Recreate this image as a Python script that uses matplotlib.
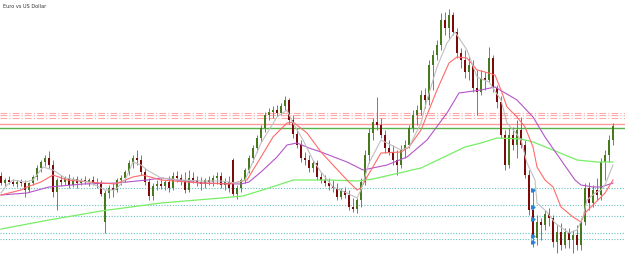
import matplotlib
matplotlib.use("Agg")
import matplotlib.pyplot as plt

title = "Euro vs US Dollar"

# OHLC per bar
opens = [1.124,1.117,1.120,1.118,1.116,1.118,1.117,1.110,1.117,1.123,1.132,1.138,1.142,1.135,1.108,1.120,1.118,1.122,1.115,1.121,
         1.117,1.120,1.118,1.120,1.117,1.116,1.078,1.107,1.112,1.110,1.120,1.122,1.128,1.137,1.142,1.140,1.128,1.118,1.104,1.114,
         1.116,1.114,1.118,1.112,1.124,1.122,1.120,1.110,1.122,1.120,1.118,1.116,1.120,1.118,1.122,1.124,1.115,1.118,1.140,1.106,
         1.112,1.120,1.130,1.142,1.152,1.162,1.172,1.185,1.188,1.190,1.187,1.194,1.200,1.180,1.166,1.155,1.142,1.140,1.132,1.137,
         1.123,1.120,1.117,1.114,1.112,1.103,1.109,1.105,1.093,1.091,1.100,1.118,1.145,1.167,1.178,1.175,1.165,1.152,1.148,1.140,
         1.135,1.150,1.155,1.172,1.185,1.190,1.205,1.200,1.235,1.245,1.255,1.280,1.272,1.285,1.268,1.247,1.240,1.228,1.235,1.212,
         1.208,1.222,1.220,1.242,1.212,1.198,1.165,1.135,1.165,1.155,1.170,1.155,1.125,1.090,1.062,1.078,1.075,1.086,1.082,1.058,
         1.068,1.055,1.068,1.060,1.065,1.055,1.078,1.112,1.097,1.110,1.105,1.138,1.145,1.160]
highs = [1.128,1.122,1.124,1.121,1.120,1.121,1.120,1.118,1.125,1.135,1.140,1.145,1.149,1.140,1.122,1.125,1.124,1.126,1.123,1.124,
         1.122,1.124,1.122,1.124,1.122,1.120,1.110,1.115,1.117,1.122,1.125,1.130,1.140,1.145,1.150,1.145,1.132,1.122,1.117,1.120,
         1.122,1.120,1.124,1.128,1.129,1.126,1.128,1.130,1.128,1.124,1.123,1.122,1.124,1.125,1.128,1.128,1.122,1.124,1.142,1.115,
         1.122,1.132,1.145,1.155,1.165,1.175,1.188,1.192,1.194,1.195,1.197,1.204,1.202,1.185,1.172,1.160,1.148,1.145,1.140,1.140,
         1.128,1.125,1.122,1.120,1.117,1.112,1.113,1.110,1.102,1.102,1.122,1.150,1.172,1.182,1.203,1.182,1.170,1.160,1.155,1.150,
         1.155,1.160,1.175,1.190,1.195,1.210,1.212,1.240,1.250,1.260,1.287,1.288,1.291,1.288,1.272,1.252,1.250,1.243,1.240,1.230,
         1.230,1.228,1.253,1.245,1.215,1.204,1.170,1.172,1.173,1.180,1.183,1.160,1.130,1.110,1.085,1.082,1.090,1.092,1.085,1.075,
         1.077,1.072,1.072,1.070,1.075,1.082,1.117,1.118,1.115,1.122,1.142,1.150,1.165,1.177]
lows = [1.115,1.114,1.116,1.114,1.113,1.114,1.103,1.108,1.115,1.120,1.128,1.134,1.132,1.103,1.090,1.114,1.115,1.112,1.113,1.112,
        1.115,1.116,1.114,1.115,1.112,1.104,1.067,1.102,1.103,1.108,1.115,1.118,1.125,1.132,1.135,1.125,1.115,1.100,1.100,1.110,
        1.111,1.110,1.108,1.110,1.118,1.115,1.107,1.108,1.117,1.114,1.110,1.112,1.115,1.114,1.116,1.112,1.110,1.108,1.104,1.101,
        1.108,1.117,1.127,1.138,1.148,1.158,1.168,1.180,1.182,1.184,1.185,1.190,1.176,1.162,1.152,1.138,1.135,1.128,1.128,1.120,
        1.117,1.114,1.110,1.108,1.100,1.101,1.102,1.090,1.088,1.087,1.093,1.115,1.137,1.160,1.170,1.162,1.147,1.145,1.135,1.125,
        1.132,1.142,1.152,1.168,1.175,1.185,1.192,1.195,1.210,1.240,1.250,1.265,1.262,1.265,1.242,1.232,1.222,1.220,1.208,1.185,
        1.205,1.210,1.218,1.208,1.192,1.162,1.130,1.132,1.150,1.142,1.152,1.122,1.085,1.053,1.055,1.060,1.070,1.074,1.053,1.047,
        1.050,1.052,1.052,1.047,1.050,1.050,1.075,1.090,1.093,1.100,1.100,1.120,1.138,1.155]
closes = [1.117,1.120,1.118,1.116,1.118,1.117,1.110,1.117,1.123,1.132,1.138,1.142,1.135,1.108,1.120,1.118,1.122,1.115,1.121,1.117,
          1.120,1.118,1.120,1.117,1.116,1.106,1.107,1.112,1.110,1.120,1.122,1.128,1.137,1.142,1.140,1.128,1.118,1.104,1.114,1.116,
          1.114,1.118,1.112,1.124,1.122,1.120,1.110,1.122,1.120,1.118,1.116,1.120,1.118,1.122,1.124,1.115,1.118,1.112,1.106,1.112,
          1.120,1.130,1.142,1.152,1.162,1.172,1.185,1.188,1.190,1.187,1.194,1.200,1.180,1.166,1.155,1.142,1.140,1.132,1.137,1.123,
          1.120,1.117,1.114,1.112,1.103,1.109,1.105,1.093,1.091,1.100,1.118,1.145,1.167,1.178,1.175,1.165,1.152,1.148,1.140,1.135,
          1.150,1.155,1.172,1.185,1.190,1.205,1.200,1.235,1.245,1.255,1.280,1.272,1.285,1.268,1.247,1.240,1.228,1.235,1.212,1.208,
          1.222,1.220,1.242,1.212,1.198,1.165,1.135,1.165,1.155,1.170,1.155,1.125,1.090,1.062,1.078,1.075,1.086,1.082,1.058,1.068,
          1.055,1.068,1.060,1.065,1.055,1.078,1.112,1.097,1.110,1.105,1.138,1.145,1.160,1.174]

# moving averages (bar index, price)
ma_fast_idx = [0,1.5,3,6,8,10.5,13,16,22,26,28.5,31,33,35,36.5,40,45,50,55,58.5,61,65,69,71.5,73,75.5,78,80,83,86.5,89,90,92,95,96.5,100,102,105,106.5,109,111.5,113.5,116.5,119,122,125,126.5,128.5,130,131.5,133.5,134,136.5,138.5,142,144,145.5,146.5,148.5,150,151,153]
ma_fast = [1.107,1.115,1.120,1.118,1.120,1.133,1.130,1.122,1.118,1.110,1.110,1.120,1.138,1.135,1.130,1.122,1.120,1.119,1.119,1.117,1.120,1.157,1.183,1.190,1.177,1.160,1.140,1.128,1.113,1.107,1.102,1.110,1.137,1.160,1.157,1.150,1.153,1.177,1.200,1.233,1.257,1.268,1.250,1.223,1.218,1.200,1.177,1.168,1.160,1.137,1.120,1.097,1.088,1.077,1.067,1.070,1.083,1.100,1.107,1.110,1.115,1.135]
ma_mid_idx = [0,5,6.5,10,13,16.5,22,28.5,33,35.5,40,50,57,61.5,65,68,71.5,73,76.5,80,83,86.5,89,90,91.5,95,100,102,105,107,109,112,114,116.5,119,121,123.5,125,126.5,129,131,133,134,136,138,140,143,145,146,148.5,151,153]
ma_mid = [1.105,1.110,1.113,1.118,1.125,1.120,1.118,1.116,1.123,1.125,1.120,1.117,1.116,1.120,1.143,1.163,1.177,1.178,1.167,1.148,1.135,1.120,1.110,1.112,1.123,1.147,1.148,1.153,1.170,1.190,1.210,1.237,1.243,1.242,1.230,1.228,1.225,1.210,1.193,1.183,1.173,1.153,1.133,1.120,1.113,1.093,1.083,1.078,1.087,1.097,1.107,1.120]
ma_slow_idx = [0,6.5,12,20.5,29,36.5,40,50,60,62,65,69,71.5,74,77,80,86.5,90.5,96.5,101.5,106.5,111.5,114.5,120,123.5,129,133,136,140,143.5,145,148,150,153]
ma_slow = [1.105,1.107,1.113,1.116,1.117,1.120,1.122,1.117,1.116,1.118,1.128,1.143,1.155,1.157,1.152,1.148,1.138,1.130,1.135,1.143,1.160,1.187,1.207,1.210,1.213,1.200,1.183,1.163,1.140,1.120,1.115,1.113,1.113,1.117]
ma_long_idx = [0,12,25,40,55,60.5,67,73,82,89,93,105,116,120,124,130,133,138,144,149,153]
ma_long = [1.071,1.080,1.089,1.097,1.102,1.104,1.112,1.120,1.120,1.119,1.121,1.132,1.153,1.157,1.162,1.161,1.158,1.150,1.140,1.138,1.138]

levels_dashdot = [1.187, 1.1845, 1.182]
level_red = 1.176
level_green = 1.1717
levels_dotted = [1.112, 1.095, 1.084, 1.067, 1.061]
marker_bar = 133
marker_prices = [1.110, 1.093, 1.081, 1.064, 1.058]

fig = plt.figure(figsize=(6.25, 2.68), dpi=100)
ax = fig.add_axes([0, 0, 1, 1])
ax.axis('off')

for lv in levels_dashdot:
    ax.axhline(lv, color='#ffaaaa', lw=0.8, ls=(0, (6, 2, 1, 2)), zorder=1)
ax.axhline(level_red, color='#ff9a9a', lw=1.0, zorder=1)
ax.axhline(level_green, color='#5ab04a', lw=1.0, zorder=1)
for lv in levels_dotted:
    ax.axhline(lv, color='#66c2c2', lw=0.8, ls=(0, (1, 1.5)), zorder=1)

ax.plot(ma_long_idx, ma_long, color='#77ee66', lw=0.9, zorder=4)
ax.plot(ma_slow_idx, ma_slow, color='#b455c8', lw=0.8, zorder=4)
ax.plot(ma_mid_idx, ma_mid, color='#ff6a6a', lw=0.8, zorder=4)

for i, (o, h, l, c) in enumerate(zip(opens, highs, lows, closes)):
    ax.vlines(i, l, h, color='#7a7a7a', lw=0.7, zorder=2)
    col = '#467a1c' if c >= o else '#7d0a0a'
    ax.bar(i, max(abs(c - o), 0.0008), bottom=min(o, c), width=0.7, color=col, zorder=3, lw=0)

ax.plot(ma_fast_idx, ma_fast, color='#c0c0c0', lw=0.8, zorder=5)
ax.plot([marker_bar] * len(marker_prices), marker_prices, ls='none', marker='>',
        ms=2.5, color='#2a7fd4', zorder=6)

ax.set_xlim(-0.25, 156)
ax.set_ylim(1.032, 1.300)
fig.text(0.005, 0.985, title, fontsize=3.6, va='top', ha='left', color='#333333')
fig.savefig('out.png', dpi=100)
